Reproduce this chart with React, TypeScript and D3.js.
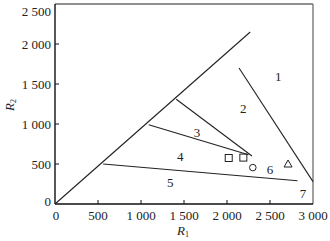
import * as d3 from 'd3';

// Boundary segments in data units [R1, R2]
const boundaries: [number, number][][] = [
  [[0, 0], [2270, 2150]],
  [[560, 500], [2820, 290]],
  [[1410, 1310], [2290, 600]],
  [[1090, 990], [2250, 615]],
  [[2140, 1700], [3000, 280]],
];

const squares: [number, number][] = [[2020, 575], [2190, 580]];
const circles: [number, number][] = [[2300, 455]];
const triangles: [number, number][] = [[2710, 500]];

const regionLabels: { text: string; x: number; y: number }[] = [
  { text: '1', x: 2595, y: 1600 },
  { text: '2', x: 2190, y: 1200 },
  { text: '3', x: 1650, y: 900 },
  { text: '4', x: 1455, y: 590 },
  { text: '5', x: 1340, y: 265 },
  { text: '6', x: 2500, y: 435 },
  { text: '7', x: 2885, y: 135 },
];

const xTicks = [0, 500, 1000, 1500, 2000, 2500, 3000];
const yTicks = [0, 500, 1000, 1500, 2000, 2500];

const W = 330;
const H = 241;
const FONT = '"Liberation Serif", "DejaVu Serif", serif';

const fmt = (v: number) =>
  v >= 1000 ? `${Math.floor(v / 1000)} ${String(v % 1000).padStart(3, '0')}` : String(v);

export default function App() {
  const x = d3.scaleLinear().domain([0, 3000]).range([55, 313]);
  const y = d3.scaleLinear().domain([0, 2500]).range([204, 4]);
  const line = d3.line<[number, number]>().x((d) => x(d[0])).y((d) => y(d[1]));

  const x0 = x(0), x1 = x(3000), y0 = y(0), y1 = y(2500);

  // label baseline offsets (top label pushed down so it stays inside)
  const yLabelY = (t: number) => (t === 0 ? y(t) + 2 : t === 2500 ? 16 : y(t) + 4.5);

  return (
    <svg
      width={W}
      height={H}
      style={{ position: 'absolute', left: 0, top: 0, background: '#fff' }}
      fontFamily={FONT}
    >
      {/* frame */}
      <line x1={x0} y1={y1} x2={x1} y2={y1} stroke="#222" strokeWidth={1.2} />
      <line x1={x1} y1={y1} x2={x1} y2={y0} stroke="#777" strokeWidth={1.4} />
      <line x1={x0} y1={y1} x2={x0} y2={y0} stroke="#111" strokeWidth={1.4} />
      <line x1={x0} y1={y0} x2={x1} y2={y0} stroke="#111" strokeWidth={1.4} />

      {/* ticks */}
      {xTicks.filter((t) => t > 0 && t < 3000).map((t) => (
        <line key={'xt' + t} x1={x(t)} x2={x(t)} y1={y0} y2={y0 - 4} stroke="#111" strokeWidth={1} />
      ))}
      {yTicks.filter((t) => t > 0 && t < 2500).map((t) => (
        <line key={'yt' + t} x1={x0} x2={x0 + 4} y1={y(t)} y2={y(t)} stroke="#111" strokeWidth={1} />
      ))}

      {/* tick labels */}
      {xTicks.map((t) => (
        <text key={'xl' + t} x={x(t) + (t === 0 ? 1 : 0)} y={220} fontSize={13} textAnchor="middle" fill="#222">
          {fmt(t)}
        </text>
      ))}
      {yTicks.map((t) => (
        <text key={'yl' + t} x={51} y={yLabelY(t)} fontSize={13} textAnchor="end" fill="#222">
          {fmt(t)}
        </text>
      ))}

      {/* axis titles */}
      <text x={183} y={235} fontSize={13} fontStyle="italic" textAnchor="middle" fill="#222">
        R<tspan fontSize={8} fontStyle="normal" dy={2}>1</tspan>
      </text>
      <text transform="translate(14,105) rotate(-90)" fontSize={13} fontStyle="italic" textAnchor="middle" fill="#222">
        R<tspan fontSize={8} fontStyle="normal" dy={2}>2</tspan>
      </text>

      {/* boundaries */}
      {boundaries.map((seg, i) => (
        <path key={'b' + i} d={line(seg) ?? ''} fill="none" stroke="#222" strokeWidth={1.1} />
      ))}

      {/* markers */}
      {squares.map((p, i) => (
        <rect key={'s' + i} x={x(p[0]) - 3.5} y={y(p[1]) - 3.5} width={7} height={7} fill="none" stroke="#222" strokeWidth={1} />
      ))}
      {circles.map((p, i) => (
        <circle key={'c' + i} cx={x(p[0])} cy={y(p[1])} r={3.3} fill="none" stroke="#222" strokeWidth={1} />
      ))}
      {triangles.map((p, i) => {
        const cx = x(p[0]), cy = y(p[1]);
        return (
          <path key={'t' + i} d={`M${cx},${cy - 4}L${cx + 4},${cy + 3}L${cx - 4},${cy + 3}Z`} fill="none" stroke="#222" strokeWidth={1} />
        );
      })}

      {/* region labels */}
      {regionLabels.map((l) => (
        <text key={'r' + l.text} x={x(l.x)} y={y(l.y) + 4.5} fontSize={13} textAnchor="middle" fill="#222">
          {l.text}
        </text>
      ))}
    </svg>
  );
}
